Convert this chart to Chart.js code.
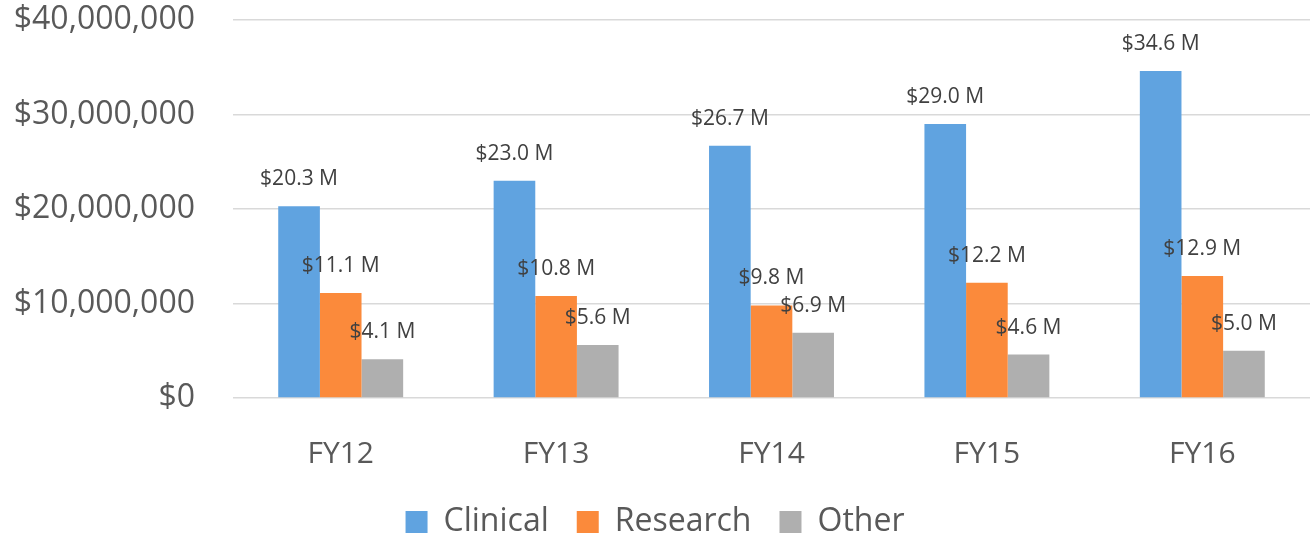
<!DOCTYPE html>
<html>
<head>
<meta charset="utf-8">
<script src="https://cdn.jsdelivr.net/npm/chart.js@4"></script>
<style>
  html, body { margin: 0; padding: 0; background: #fff; }
  canvas { display: block; }
</style>
</head>
<body>
<canvas id="chart" width="1310" height="539"></canvas>
<script>
// values in dollars
const categories = ['FY12', 'FY13', 'FY14', 'FY15', 'FY16'];
const clinical = [20300000, 23000000, 26700000, 29000000, 34600000];
const research = [11100000, 10800000, 9800000, 12200000, 12900000];
const other = [4100000, 5600000, 6900000, 4600000, 5000000];
const y_ticks = [0, 10000000, 20000000, 30000000, 40000000];

const FONT = '"Open Sans", sans-serif';

// Draws the "$20.3 M" style labels above each bar.
const barLabels = {
  id: 'barLabels',
  afterDatasetsDraw(chart) {
    const ctx = chart.ctx;
    ctx.save();
    ctx.font = `21px ${FONT}`;
    ctx.fillStyle = '#404040';
    ctx.textAlign = 'center';
    ctx.textBaseline = 'middle';
    chart.data.datasets.forEach((ds, i) => {
      const meta = chart.getDatasetMeta(i);
      meta.data.forEach((bar, j) => {
        const text = '$' + (ds.data[j] / 1000000).toFixed(1) + ' M';
        ctx.fillText(text, bar.x, bar.y - 27);
      });
    });
    ctx.restore();
  }
};

new Chart(document.getElementById('chart'), {
  type: 'bar',
  data: {
    labels: categories,
    datasets: [
      { label: 'Clinical', data: clinical, backgroundColor: '#60A3E0' },
      { label: 'Research', data: research, backgroundColor: '#FB8A3B' },
      { label: 'Other', data: other, backgroundColor: '#AFAFAF' },
    ]
  },
  options: {
    responsive: false,
    devicePixelRatio: 1,
    animation: false,
    layout: { padding: { top: 20, right: 0, left: 0, bottom: -9 } },
    datasets: {
      bar: { categoryPercentage: 0.58, barPercentage: 1.0 }
    },
    plugins: {
      tooltip: { enabled: false },
      legend: {
        position: 'bottom',
        labels: {
          boxWidth: 22,
          boxHeight: 22,
          padding: 28,
          color: '#595959',
          font: { family: FONT, size: 32 }
        }
      }
    },
    scales: {
      x: {
        grid: { display: false },
        border: { display: false },
        ticks: {
          color: '#595959',
          padding: 30,
          font: { family: FONT, size: 30 }
        },
        afterFit(axis) { axis.height = 80; }
      },
      y: {
        min: 0,
        max: 40000000,
        afterBuildTicks(axis) {
          axis.ticks = y_ticks.map(v => ({ value: v }));
        },
        grid: { color: '#D9D9D9', lineWidth: 1.5, drawTicks: false },
        border: { display: false },
        ticks: {
          color: '#595959',
          padding: 38,
          font: { family: FONT, size: 32 },
          callback: (v) => '$' + Number(v).toLocaleString('en-US')
        },
        afterFit(axis) {
          axis.width = 233;
          // tick padding would otherwise push the plot area down
          axis.paddingTop = 0;
          axis.paddingBottom = 0;
        }
      }
    }
  },
  plugins: [barLabels]
});
</script>
</body>
</html>
